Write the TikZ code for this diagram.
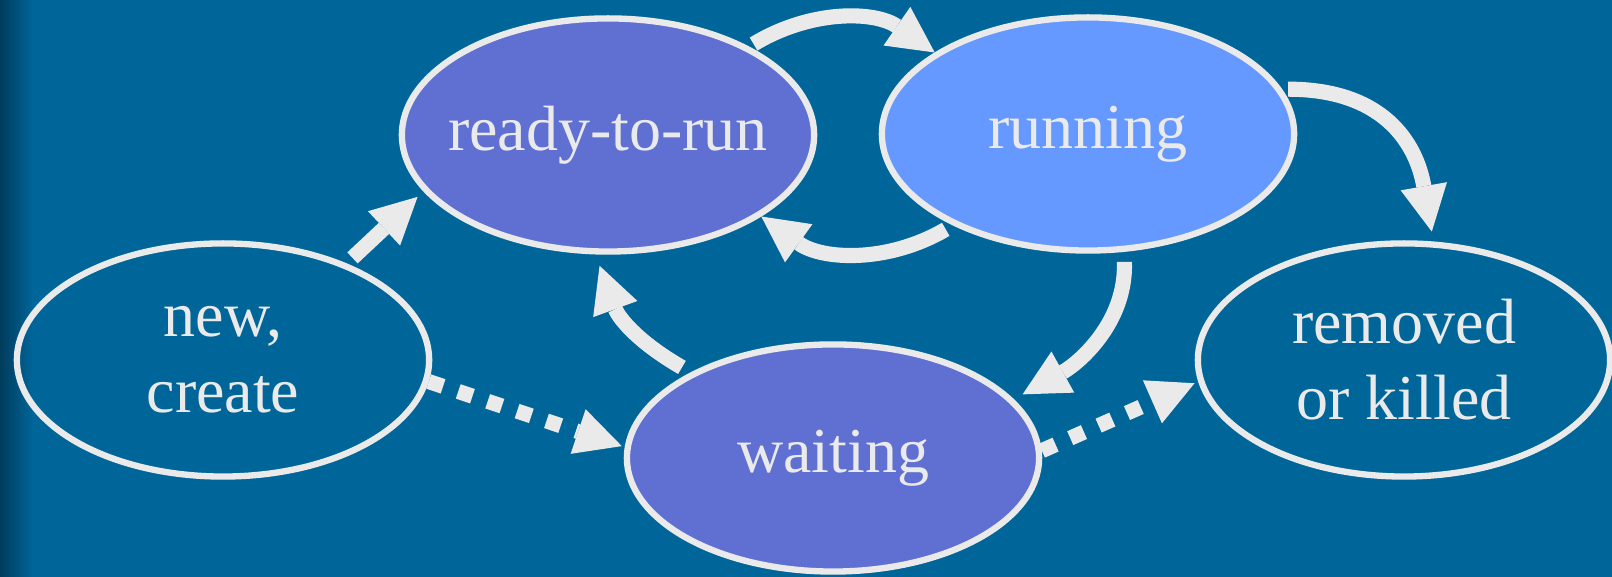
\documentclass[tikz,border=0pt]{standalone}
\usepackage{fontspec}
\setmainfont{Liberation Serif}
\usetikzlibrary{shapes.geometric,arrows.meta}
\definecolor{bgblue}{HTML}{00669A}
\definecolor{bgdark}{HTML}{003C5C}
\definecolor{rimgray}{HTML}{EAEAEA}
\definecolor{purplefill}{HTML}{6070D2}
\definecolor{lightfill}{HTML}{6699FF}

\begin{document}
\begin{tikzpicture}[x=0.01cm, y=0.01cm,
	st/.style={ellipse, draw=rimgray, line width=1.8pt, text=rimgray, inner sep=0pt, inner xsep=-2cm,
		minimum width=4.12cm, minimum height=2.33cm, align=center,
		font=\fontsize{18.2}{21.6}\selectfont},
	arr/.style={rimgray, line width=4.3pt, -{Triangle[length=0.46cm, width=0.47cm, line width=0pt]}},
	dots/.style={arr, dash pattern=on 0.15cm off 0.16cm}]
		\useasboundingbox (0,0) rectangle (1612,577);
		\fill[bgblue] (0,0) rectangle (1612,577);
		\shade[left color=bgdark, right color=bgblue] (0,0) rectangle (33,577);

		\draw (223,217) node [st] (new) {new,\\create};
		\draw (608,442) node [st, fill=purplefill] (ready) {ready-to-run};
		\draw (1088,443) node [st, fill=lightfill] (running) {running};
		\draw (833,119) node [st, fill=purplefill, minimum height=2.27cm] (waiting) {waiting};
		\draw (1404,217) node [st] (removed) {removed\\or killed};

		\path[arr]
		(new.38) edge[shorten <=0.08cm, shorten >=0.08cm] (ready.197)
		(ready.32) edge[bend left=33, shorten <=0.05cm] (running.152)
		(running.214) edge[bend left=33, shorten <=0.08cm] (ready.332)
		(running.13) edge[out=0, in=100, looseness=1.2, shorten <=0.06cm, shorten >=0.1cm] (removed.76)
		(running.287) edge[out=272, in=29, shorten <=0.1cm, shorten >=0.1cm] (waiting.18)
		(waiting.149) edge[out=150, in=290, looseness=1.1, shorten <=0.1cm, shorten >=0.12cm] (ready.264);

		\path[dots]
		(new.-6) edge[shorten >=0.03cm] (waiting.177)
		(waiting.2) edge[shorten >=0.04cm] (removed.186);
	\end{tikzpicture}
\end{document}
